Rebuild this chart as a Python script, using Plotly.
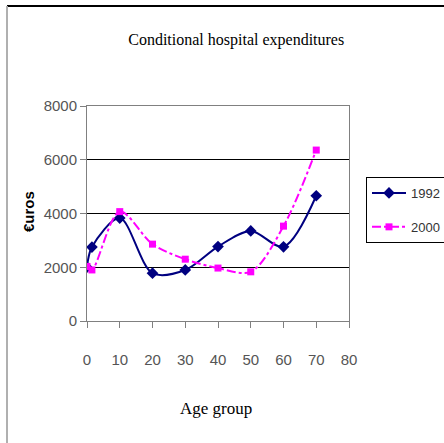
import plotly.graph_objects as go

age_1992 = [0, 1.5, 10, 20, 30, 40, 50, 60, 70]
exp_1992 = [2000, 2750, 3830, 1780, 1900, 2770, 3350, 2760, 4660]
age_2000 = [0, 1.5, 10, 20, 30, 40, 50, 60, 70]
exp_2000 = [2030, 1900, 4070, 2860, 2300, 1970, 1830, 3530, 6360]

x_ticks = [0, 10, 20, 30, 40, 50, 60, 70, 80]
y_ticks = [0, 2000, 4000, 6000, 8000]

tick_font = dict(family="Liberation Sans, Arial, sans-serif", size=15, color="#555555")
serif = "Liberation Serif, Times New Roman, serif"

fig = go.Figure()
fig.add_trace(go.Scatter(
    x=age_1992, y=exp_1992, name="1992", mode="lines+markers", legendgroup="a",
    line=dict(color="#000080", width=2, shape="spline", smoothing=0.9),
    marker=dict(symbol="diamond", size=9, color="#000080"),
))
fig.add_trace(go.Scatter(
    x=age_2000, y=exp_2000, name="2000", mode="lines+markers", legendgroup="b",
    line=dict(color="#FF00FF", width=2, dash="dashdot", shape="spline", smoothing=0.9),
    marker=dict(symbol="square", size=7, color="#FF00FF"),
))

fig.update_layout(
    template="none",
    width=444, height=443,
    margin=dict(l=87, r=95, t=106, b=122, autoexpand=False),
    paper_bgcolor="white", plot_bgcolor="white",
    title=dict(text="Conditional hospital expenditures", x=0.532, xanchor="center", xref="container",
               y=0.91, yanchor="middle", yref="container",
               font=dict(family=serif, size=16, color="black")),
    showlegend=True,
    legend=dict(x=(366 - 87) / 262, y=(321 - 177) / 215, xanchor="left", yanchor="top",
                bordercolor="black", borderwidth=1, bgcolor="white",
                font=dict(family=tick_font["family"], size=13, color="#333333"),
                tracegroupgap=14, itemwidth=34),
    xaxis=dict(range=[0, 80], tickvals=x_ticks, showgrid=False, zeroline=False, automargin=False,
               showline=True, linecolor="#808080", linewidth=1, mirror=True,
               ticks="outside", ticklen=6, tickcolor="#808080",
               tickfont=tick_font, ticklabelstandoff=19),
    yaxis=dict(range=[0, 8000], tickvals=y_ticks, showgrid=True, gridcolor="black", gridwidth=1,
               zeroline=False, showline=True, linecolor="#808080", linewidth=1, mirror=True,
               automargin=False, ticks="outside", ticklen=6, tickcolor="#808080", tickfont=tick_font),
    annotations=[
        dict(text="Age group", xref="paper", yref="paper", x=(216 - 87) / 262, y=(321 - 408) / 215,
             xanchor="center", yanchor="middle", showarrow=False,
             font=dict(family=serif, size=17, color="black")),
        dict(text="<b>€uros</b>", xref="paper", yref="paper", x=(28 - 87) / 262, y=(321 - 212) / 215,
             xanchor="center", yanchor="middle", showarrow=False, textangle=-90,
             font=dict(family="Liberation Sans, Arial, sans-serif", size=15, color="black")),
    ],
)

fig.add_shape(type="line", xref="paper", yref="paper", x0=(7 - 87) / 262, x1=(444 - 87) / 262,
              y0=(321 - 6) / 215, y1=(321 - 6) / 215, line=dict(color="black", width=2))
fig.add_shape(type="line", xref="paper", yref="paper", x0=(7 - 87) / 262, x1=(7 - 87) / 262,
              y0=(321 - 6) / 215, y1=(321 - 443) / 215, line=dict(color="#b0b0b0", width=2))

fig.write_html("out.html", config={"displayModeBar": False},
               post_script="document.body.style.margin='0px';")
